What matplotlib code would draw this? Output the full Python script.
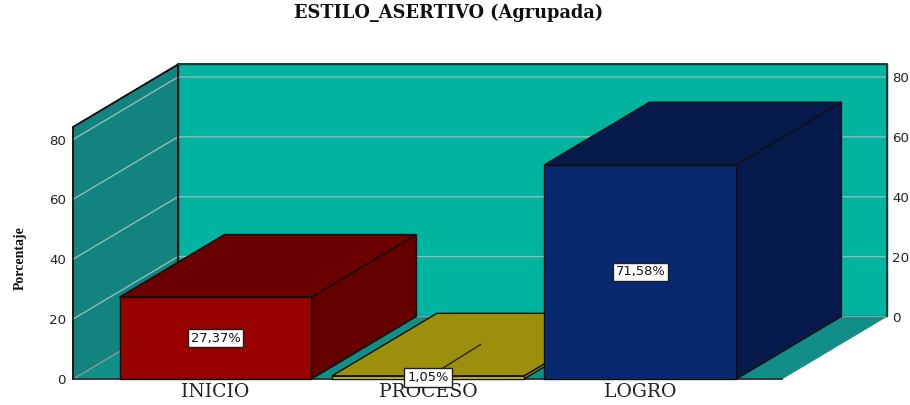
import matplotlib
matplotlib.use("Agg")
import matplotlib.pyplot as plt
from matplotlib.patches import Polygon

categories = ["INICIO", "PROCESO", "LOGRO"]
values = [27.37, 1.05, 71.58]
value_labels = ["27,37%", "1,05%", "71,58%"]
y_ticks = [0, 20, 40, 60, 80]
title = "ESTILO_ASERTIVO (Agrupada)"
y_label = "Porcentaje"

front_colors = ["#990000", "#E6D60E", "#08286F"]
top_colors = ["#6A0000", "#9C8F0B", "#061A4C"]
side_colors = ["#650000", "#8F840A", "#061A4C"]
WALL = "#00B4A0"
SIDE = "#12837F"
FLOOR = "#128E88"
GRID = "#8FBDB3"
W, H = 910, 405

X_MIN, X_MAX = -0.6706, 2.666
Y_MAX = 84.2
DX, DY = 0.494, 20.9
BAR_W = 0.9035

fig = plt.figure(figsize=(W / 100, H / 100), dpi=100, facecolor="white")
ax = fig.add_axes([73 / W, (H - 379) / H, (782 - 73) / W, (379 - 127) / H])
ax.set_xlim(X_MIN, X_MAX)
ax.set_ylim(0, Y_MAX)
ax.patch.set_visible(False)
for s in ax.spines.values():
    s.set_visible(False)


def poly(pts, fc, ec="#101010", lw=1.0, z=2):
    ax.add_patch(Polygon(pts, closed=True, facecolor=fc, edgecolor=ec, linewidth=lw,
                         clip_on=False, zorder=z, joinstyle="miter"))


# walls and floor
poly([(X_MIN + DX, DY), (X_MAX + DX, DY), (X_MAX + DX, DY + Y_MAX), (X_MIN + DX, DY + Y_MAX)], WALL, z=1)
poly([(X_MIN, 0), (X_MIN + DX, DY), (X_MIN + DX, DY + Y_MAX), (X_MIN, Y_MAX)], SIDE, z=1)
poly([(X_MIN, 0), (X_MAX, 0), (X_MAX + DX, DY), (X_MIN + DX, DY)], FLOOR, ec=FLOOR, lw=0.5, z=1.1)

# gridlines on the walls
for t in y_ticks:
    ax.plot([X_MIN, X_MIN + DX, X_MAX + DX], [t, t + DY, t + DY], color=GRID if t else "#8A9E9A",
            lw=1.0, clip_on=False, zorder=1.5)
ax.plot([X_MIN, X_MAX], [0, 0], color="#303030", lw=1.3, clip_on=False, zorder=1.6)
ax.plot([X_MIN, X_MIN + DX, X_MIN + DX], [Y_MAX, Y_MAX + DY, DY], color="#101010", lw=1.2, clip_on=False, zorder=1.7)
ax.plot([X_MIN + DX, X_MAX + DX, X_MAX + DX], [Y_MAX + DY, Y_MAX + DY, DY], color="#1C3A38", lw=1.4, clip_on=False, zorder=1.7)
ax.plot([X_MIN, X_MIN], [0, Y_MAX], color="#101010", lw=1.1, clip_on=False, zorder=1.7)

# bars
for i, v in enumerate(values):
    x0, x1 = i - BAR_W / 2, i + BAR_W / 2
    z = 3 + i
    poly([(x1, 0), (x1 + DX, DY), (x1 + DX, v + DY), (x1, v)], side_colors[i], z=z)
    poly([(x0, v), (x1, v), (x1 + DX, v + DY), (x0 + DX, v + DY)], top_colors[i], z=z)
    poly([(x0, 0), (x1, 0), (x1, v), (x0, v)], front_colors[i], z=z)

# value labels
box = dict(boxstyle="square,pad=0.22", facecolor="white", edgecolor="#202020", linewidth=1.0)
for i, v in enumerate(values):
    if v < 5:
        ax.plot([i, i + DX / 2], [v / 2, v + DY / 2], color="#2A2608", lw=1.0, clip_on=False, zorder=7)
    ax.text(i, v / 2, value_labels[i], ha="center", va="center", fontsize=9.4,
            family="DejaVu Sans", color="#111111", bbox=box, zorder=8, clip_on=False)

# axes text
ax.set_xticks(range(len(categories)))
ax.set_xticklabels(categories, family="DejaVu Serif", fontsize=13.6, color="#222222")
ax.set_yticks(y_ticks)
ax.tick_params(axis="x", length=0, pad=3)
ax.tick_params(axis="y", length=0, pad=5, labelsize=9.6, labelcolor="#222222")

back = fig.add_axes([178 / W, (H - 316.5) / H, (888 - 178) / W, (379 - 127) / H])
back.set_ylim(0, Y_MAX)
back.patch.set_visible(False)
for s in back.spines.values():
    s.set_visible(False)
back.set_xticks([])
back.yaxis.tick_right()
back.set_yticks(y_ticks)
back.tick_params(axis="y", length=0, pad=3, labelsize=9.6, labelcolor="#222222")

fig.text(449 / W, 1 - 13 / H, title, ha="center", va="center", family="DejaVu Serif",
         fontweight="bold", fontsize=12.8, color="#111111")
fig.text(20 / W, 1 - 258 / H, y_label, rotation=90, ha="center", va="center",
         family="Liberation Serif", fontweight="bold", fontsize=10, color="#111111")

fig.savefig("out.png", dpi=100)
